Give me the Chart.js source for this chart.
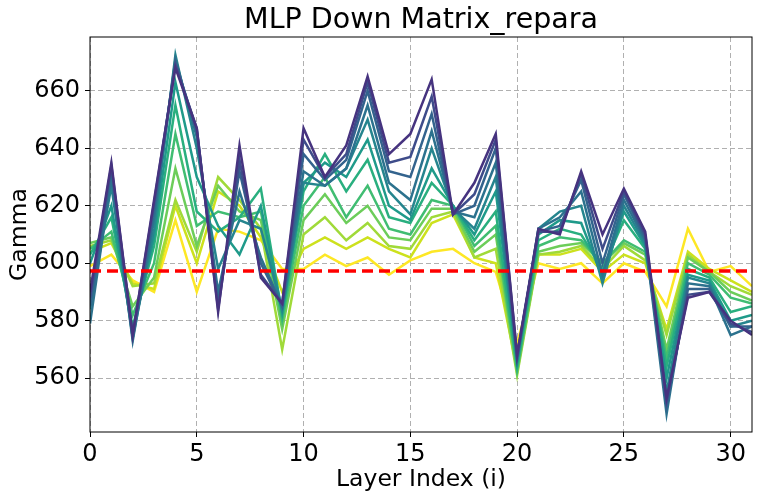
<!DOCTYPE html>
<html>
<head>
<meta charset="utf-8">
<script src="https://cdn.jsdelivr.net/npm/chart.js@4"></script>
<style>
  body { margin: 0; background: #fff; }
</style>
</head>
<body>
<canvas id="gamma-chart" width="761" height="500"></canvas>
<script>
// data //
const layers = [0, 1, 2, 3, 4, 5, 6, 7, 8, 9, 10, 11, 12, 13, 14, 15, 16, 17, 18, 19, 20, 21, 22, 23, 24, 25, 26, 27, 28, 29, 30, 31];
const xTicks = [0, 5, 10, 15, 20, 25, 30];
const gammaTicks = [560, 580, 600, 620, 640, 660];
const refGamma = 597.3;

// lightest (yellow) to darkest (purple)
const curve01 = [599, 603, 594, 590, 615, 590, 612, 611, 608, 598, 598, 603, 599, 602, 596, 601, 604, 605, 600, 597, 572, 600, 598, 600, 593, 600, 597, 585, 612, 597, 599, 592];
const curve02 = [604, 607, 593, 591, 620, 600, 625, 620, 609, 590, 605, 609, 605, 609, 605, 602, 614, 617, 602, 600, 563, 603, 603, 605, 597, 603, 600, 577, 604, 598, 594, 590];
const curve03 = [606, 608, 592, 593, 622, 604, 630, 622, 612, 570, 610, 616, 608, 614, 606, 605, 616, 618, 602, 605, 561, 603, 604, 606, 598, 606, 601, 575, 603, 597, 592, 589];
const curve04 = [607, 609, 585, 595, 633, 606, 627, 618, 615, 577, 615, 624, 614, 620, 609, 608, 619, 619, 604, 610, 562, 604, 606, 607, 600, 607, 603, 570, 602, 597, 590, 587];
const curve05 = [605, 611, 582, 600, 645, 613, 618, 616, 618, 580, 620, 630, 616, 627, 612, 610, 622, 620, 606, 613, 563, 606, 609, 608, 600, 608, 604, 567, 600, 596, 588, 586];
const curve06 = [603, 616, 578, 606, 655, 618, 611, 616, 626, 582, 625, 638, 625, 636, 616, 614, 628, 620, 608, 618, 564, 608, 612, 610, 598, 615, 605, 564, 598, 595, 583, 585];
const curve07 = [600, 620, 576, 609, 663, 630, 613, 603, 620, 583, 628, 635, 630, 643, 620, 615, 633, 620, 610, 625, 566, 610, 615, 614, 595, 618, 606, 560, 596, 594, 580, 582];
const curve08 = [584, 627, 574, 612, 672.5, 640, 598, 615, 612, 584, 628, 627, 633, 650, 625, 617, 640, 619, 612, 630, 566, 612, 618, 620, 593, 620, 607, 555, 595, 593, 578, 580];
const curve09 = [579, 630, 573, 616, 671, 644, 590, 625, 602, 585, 632, 627, 633, 655, 628, 622, 646, 618, 616, 635, 567, 612, 616, 625, 596, 622, 608, 547.5, 593, 592, 575, 578];
const curve10 = [585, 633, 574, 619, 670, 646, 586, 632, 600, 585, 638, 629, 636, 660, 632, 630, 652, 617, 620, 640, 567, 611, 613, 629, 600, 624, 609, 550, 591, 591, 578, 578];
const curve11 = [588, 634, 575, 621, 669, 647, 584, 636, 596, 586, 643, 630, 638, 663, 635, 637, 658, 617, 624, 643, 568, 611, 611, 631, 605, 625, 610, 552, 589, 590, 579, 576];
const curve12 = [590, 635, 575, 622, 668, 647, 583, 641, 595, 586, 647, 630, 641, 665, 638, 645, 664, 617, 628, 645, 568, 612, 610, 632, 610, 626, 611, 553, 588, 590, 580, 575];

const curves = [curve01, curve02, curve03, curve04, curve05, curve06, curve07, curve08, curve09, curve10, curve11, curve12];
const curveColors = ["#fde725", "#cde11d", "#a0da39", "#6ccd5a", "#40bd72", "#29af7f", "#1f9a8a", "#25858e", "#2c728e", "#33638d", "#3e4c8a", "#46337f"];

function toPoints(values) {
    return values.map((v, i) => ({ x: layers[i], y: v }));
}

let datasets = [];
// red reference line first so it ends up on top
datasets.push({
    data: toPoints(layers.map(() => refGamma)),
    borderColor: "#ff0000",
    borderWidth: 3.5,
    borderDash: [11, 6],
    pointRadius: 0,
    fill: false
});
// dark curves drawn over the light ones
for (let i = curves.length - 1; i >= 0; i--) {
    datasets.push({
        data: toPoints(curves[i]),
        borderColor: curveColors[i],
        borderWidth: 2.5,
        pointRadius: 0,
        fill: false,
        tension: 0
    });
}

// matplotlib style box round the plot
const framePlugin = {
    id: "frame",
    afterDraw(chart) {
        const a = chart.chartArea;
        const ctx = chart.ctx;
        ctx.save();
        ctx.strokeStyle = "#000";
        ctx.lineWidth = 1;
        ctx.strokeRect(a.left, a.top, a.right - a.left, a.bottom - a.top);
        ctx.restore();
    }
};

Chart.defaults.font.family = "'DejaVu Sans', sans-serif";
Chart.defaults.color = "#000";

const tickFont = { size: 24 };

let gammaChart = new Chart("gamma-chart", {
    type: "line",
    data: { datasets: datasets },
    options: {
        responsive: false,
        animation: false,
        devicePixelRatio: 1,
        layout: { padding: { left: 0, right: 9, top: 0, bottom: 0 } },
        plugins: {
            legend: { display: false },
            tooltip: { enabled: false },
            title: {
                display: true,
                text: "MLP Down Matrix_repara",
                fullSize: false,
                font: { size: 28.5, weight: "normal", lineHeight: 1 },
                padding: { top: 6.5, bottom: 2 }
            }
        },
        scales: {
            x: {
                type: "linear",
                min: 0,
                max: 31,
                afterBuildTicks: (scale) => { scale.ticks = xTicks.map(v => ({ value: v })); },
                afterFit: (scale) => { scale.height = 68; },
                ticks: { font: tickFont, padding: 3, maxRotation: 0 },
                grid: { color: "#b0b0b0", lineWidth: 1, tickLength: 5, tickColor: "#000" },
                border: { display: false, dash: [5, 3] },
                title: { display: true, text: "Layer Index (i)", font: { size: 23.5 }, padding: { top: 0, bottom: 6 } }
            },
            y: {
                min: 541.25,
                max: 678.75,
                afterBuildTicks: (scale) => { scale.ticks = gammaTicks.map(v => ({ value: v })); },
                afterFit: (scale) => { scale.width = 90; },
                ticks: { font: tickFont, padding: 5 },
                grid: { color: "#b0b0b0", lineWidth: 1, tickLength: 5, tickColor: "#000" },
                border: { display: false, dash: [5, 3] },
                title: { display: true, text: "Gamma", font: { size: 23.5 }, padding: { top: 6, bottom: 0 } }
            }
        }
    },
    plugins: [framePlugin]
});
</script>
</body>
</html>
